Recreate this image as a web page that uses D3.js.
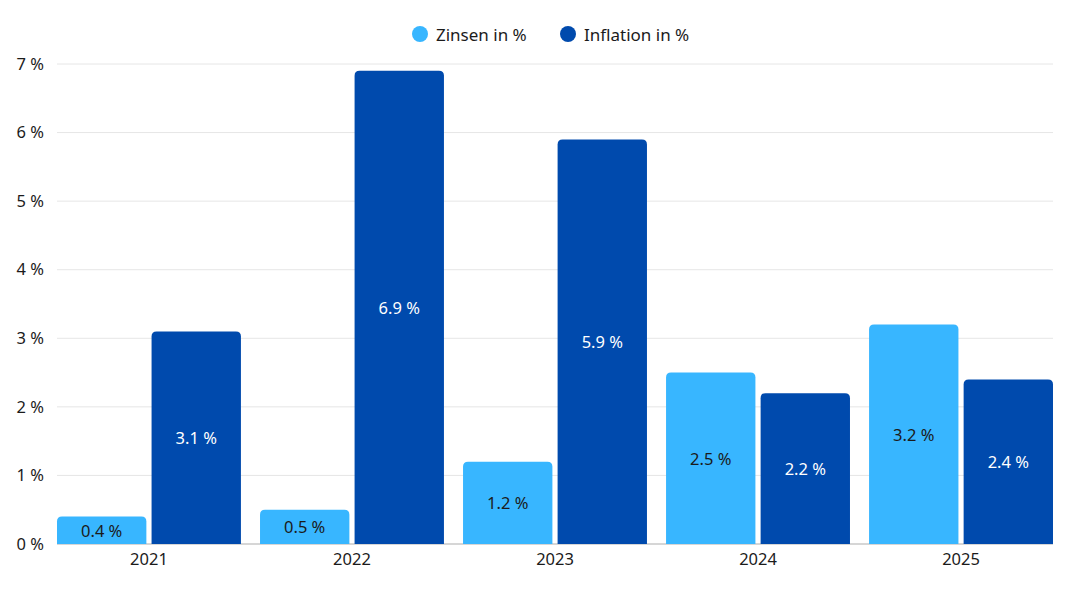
<!DOCTYPE html>
<html>
<head>
<meta charset="utf-8">
<script src="https://cdn.jsdelivr.net/npm/d3@7"></script>
<style>
    body { margin: 0; background: #fff; }
    svg { display: block; font-family: "Noto Sans", sans-serif; }
</style>
</head>
<body>
<div id="chart"></div>
<script>
// data
let years = ["2021", "2022", "2023", "2024", "2025"];
let zinsen = [0.4, 0.5, 1.2, 2.5, 3.2];
let inflation = [3.1, 6.9, 5.9, 2.2, 2.4];
let yTicks = [0, 1, 2, 3, 4, 5, 6, 7];
let seriesNames = ["Zinsen in %", "Inflation in %"];
let seriesColors = ["#38b6ff", "#004aad"];
let labelColors = ["#1b1b1b", "#ffffff"];

let w = 1067;
let h = 600;
let plotLeft = 57, plotRight = 1053, plotTop = 64, plotBottom = 544;

let svg = d3.select("#chart")
    .append("svg")
    .attr("width", w)
    .attr("height", h);

let xScale = d3.scaleBand()
    .domain(years)
    .range([plotLeft, plotRight])
    .paddingInner(0.094)
    .paddingOuter(0);

let xSub = d3.scaleBand()
    .domain([0, 1])
    .range([0, xScale.bandwidth()])
    .paddingInner(0.055);

let yScale = d3.scaleLinear()
    .domain([0, 7])
    .range([plotBottom, plotTop]);

// gridlines
svg.append("g")
    .selectAll("line")
    .data(yTicks)
    .enter()
    .append("line")
    .attr("x1", plotLeft)
    .attr("x2", plotRight)
    .attr("y1", d => yScale(d))
    .attr("y2", d => yScale(d))
    .attr("stroke", d => d === 0 ? "#d6d6d6" : "#e6e6e6")
    .attr("stroke-width", d => d === 0 ? 2 : 1);

// y axis labels
let yAxis = d3.axisLeft(yScale)
    .tickValues(yTicks)
    .tickFormat(d => d + " %")
    .tickSize(0)
    .tickPadding(13);
let yAxisGroup = svg.append("g")
    .attr("transform", "translate(" + plotLeft + ",0)")
    .call(yAxis);
yAxisGroup.select(".domain").remove();
yAxisGroup.selectAll("text")
    .attr("font-size", 16.5)
    .attr("font-family", "Noto Sans, sans-serif")
    .attr("fill", "#1b1b1b");

// x axis labels
let xAxis = d3.axisBottom(xScale).tickSize(0).tickPadding(9);
let xAxisGroup = svg.append("g")
    .attr("transform", "translate(0," + plotBottom + ")")
    .call(xAxis);
xAxisGroup.select(".domain").remove();
xAxisGroup.selectAll("text")
    .attr("font-size", 16.5)
    .attr("font-family", "Noto Sans, sans-serif")
    .attr("fill", "#1b1b1b");

// bar path with rounded top corners
function barPath(x, y, bw, bh, r) {
    r = Math.min(r, bh, bw / 2);
    return "M" + x + "," + (y + bh) +
        "V" + (y + r) +
        "Q" + x + "," + y + " " + (x + r) + "," + y +
        "H" + (x + bw - r) +
        "Q" + (x + bw) + "," + y + " " + (x + bw) + "," + (y + r) +
        "V" + (y + bh) + "Z";
}

let rows = years.map((yr, i) => ({ year: yr, values: [zinsen[i], inflation[i]] }));

let groups = svg.append("g")
    .selectAll("g")
    .data(rows)
    .enter()
    .append("g")
    .attr("transform", d => "translate(" + xScale(d.year) + ",0)");

let cells = groups.selectAll("g")
    .data(d => d.values.map((v, k) => ({ k: k, value: v })))
    .enter()
    .append("g");

cells.append("path")
    .attr("d", d => barPath(xSub(d.k), yScale(d.value), xSub.bandwidth(), plotBottom - yScale(d.value), 5))
    .attr("fill", d => seriesColors[d.k]);

cells.append("text")
    .attr("x", d => xSub(d.k) + xSub.bandwidth() / 2)
    .attr("y", d => (yScale(d.value) + plotBottom) / 2)
    .attr("text-anchor", "middle")
    .attr("dominant-baseline", "central")
    .attr("font-size", 16.5)
    .attr("fill", d => labelColors[d.k])
    .text(d => d.value.toFixed(1) + " %");

// legend
let legendX = [420, 568];
let legend = svg.append("g")
    .selectAll("g")
    .data(seriesNames)
    .enter()
    .append("g")
    .attr("transform", (d, i) => "translate(" + legendX[i] + ",34)");
legend.append("circle")
    .attr("r", 8)
    .attr("fill", (d, i) => seriesColors[i]);
legend.append("text")
    .attr("x", 16)
    .attr("dominant-baseline", "central")
    .attr("font-size", 17)
    .attr("fill", "#1b1b1b")
    .text(d => d);
</script>
</body>
</html>
